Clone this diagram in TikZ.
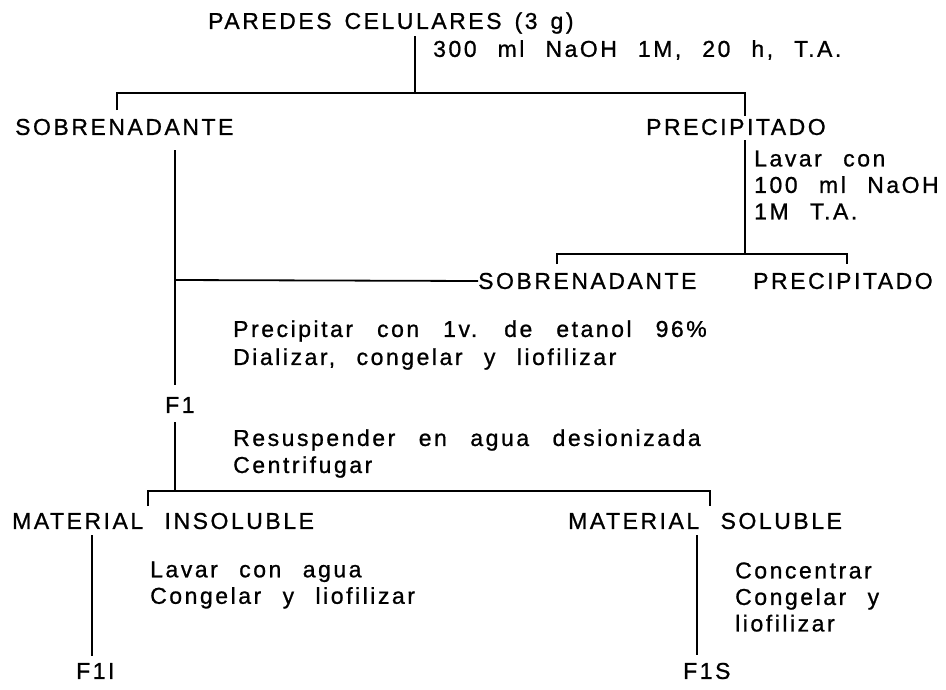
\documentclass[tikz,border=0pt]{standalone}
\usepackage{fontspec}
\setmainfont{Liberation Sans}[LetterSpace=11,WordSpace=2.4,FakeBold=0.9]
\begin{document}
\begin{tikzpicture}[x=1pt,y=-1pt,
  lbl/.style={anchor=west,inner sep=0pt,font=\fontsize{23}{28}\selectfont},
  txt/.style={anchor=west,inner sep=0pt,align=left,font=\fontsize{23}{26.5}\selectfont},
  ln/.style={line width=1.6pt,line cap=butt},
  br/.style={line width=1.8pt}]
\useasboundingbox[fill=white] (0,0) rectangle (946,689);
% texts
\node[lbl] (pc) at (208,23) {\spaceskip=13pt\relax PAREDES CELULARES (3 g)};
\node[lbl] (c1) at (433,50) {\spaceskip=21pt\relax 300 ml NaOH 1M, 20 h, T.A.};
\node[lbl] (s1) at (15,127) {SOBRENADANTE};
\node[lbl] (p1) at (646,127) {PRECIPITADO};
\node[txt] (c2) at (754,185) {Lavar con\\100 ml NaOH\\1M T.A.};
\node[lbl] (s2) at (478,281) {SOBRENADANTE};
\node[lbl] (p2) at (753,281) {PRECIPITADO};
\node[lbl] (c3a) at (233,331) {\spaceskip=24pt\relax Precipitar con 1v. de etanol 96\%};
\node[lbl] (c3b) at (233,359) {Dializar, congelar y liofilizar};
\node[lbl] (f1) at (165,405) {F1};
\node[lbl] (c4a) at (233,440) {\spaceskip=23.5pt\relax Resuspender en agua desionizada};
\node[lbl] (c4b) at (233,467) {Centrifugar};
\node[lbl] (mi) at (12,521) {MATERIAL INSOLUBLE};
\node[lbl] (ms) at (568,521) {MATERIAL SOLUBLE};
\node[txt] (c5) at (150,585) {Lavar con agua\\Congelar y liofilizar};
\node[txt] (c6) at (735,597) {Concentrar\\Congelar y\\liofilizar};
\node[lbl] (f1i) at (76,671) {F1I};
\node[lbl] (f1s) at (683,671) {F1S};
% coordinates
\coordinate (t0) at (415,36);
\coordinate (b1) at (415,93);
\coordinate (b1l) at (117,93);
\coordinate (b1r) at (745,93);
\coordinate (b1lt) at (117,110);
\coordinate (p1t) at (745,116);
\coordinate (p1b) at (745,140);
\coordinate (b2) at (745,254);
\coordinate (b2l) at (557,254);
\coordinate (b2r) at (847,254);
\coordinate (b2lt) at (557,264);
\coordinate (b2rt) at (847,264);
\coordinate (s1b) at (175,150);
\coordinate (j1) at (175,280);
\coordinate (f1t) at (175,385);
\coordinate (f1b) at (175,422);
\coordinate (b3) at (175,491);
\coordinate (b3l) at (148,491);
\coordinate (b3r) at (710,491);
\coordinate (b3lt) at (148,506);
\coordinate (b3rt) at (710,506);
\coordinate (mib) at (92,535);
\coordinate (f1it) at (92,656);
\coordinate (msb) at (697,535);
\coordinate (f1st) at (697,655);
% connectors
\draw[ln] (t0) -- (b1);
\draw[br] (b1lt) -- (b1l) -- (b1r) -- (p1t);
\draw[ln] (p1b) -- (b2);
\draw[br] (b2lt) -- (b2l) -- (b2r) -- (b2rt);
\draw[ln] (s1b) -- (f1t);
\draw[br] (j1) -- (s2.west);
\draw[ln] (f1b) -- (b3);
\draw[br] (b3lt) -- (b3l) -- (b3r) -- (b3rt);
\draw[ln] (mib) -- (f1it);
\draw[ln] (msb) -- (f1st);
\end{tikzpicture}
\end{document}
